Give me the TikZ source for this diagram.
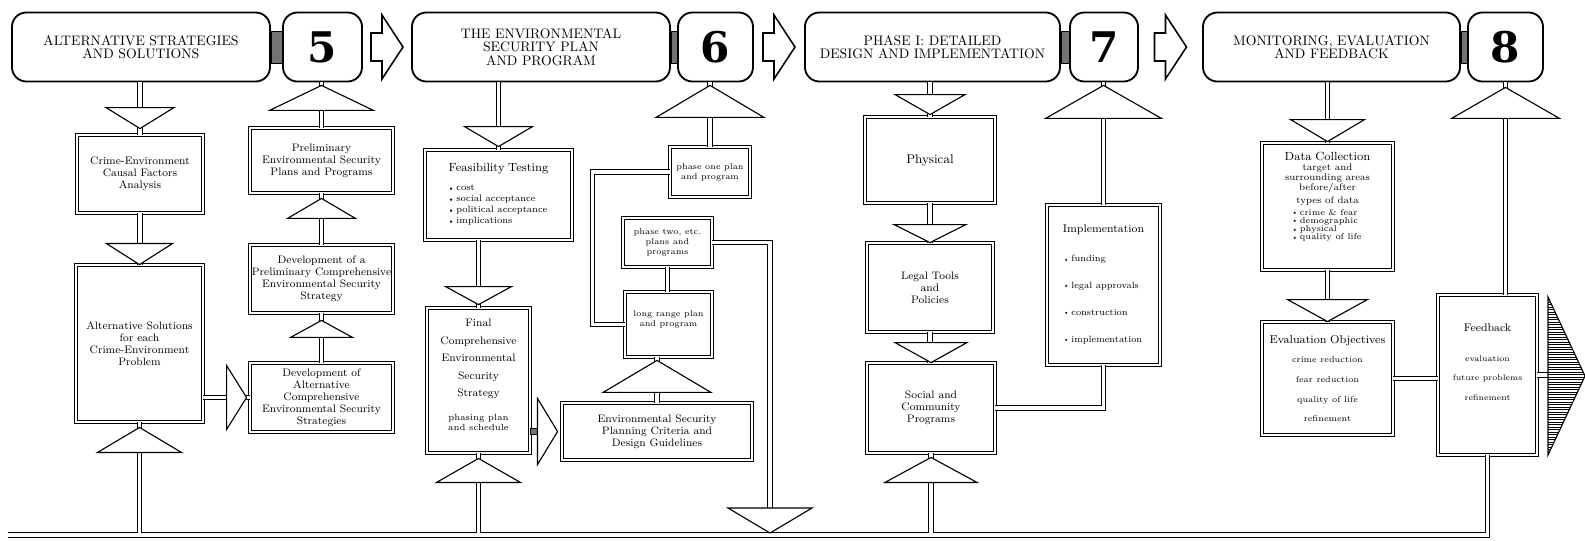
\documentclass[tikz,border=0pt]{standalone}
\usepackage{amsmath}
\usepackage{fontspec}
\usepackage{tikz}
\usetikzlibrary{calc}
\newfontfamily\numfont{DejaVu Serif}
\newcommand{\dotitem}{\raisebox{0.15ex}{\scalebox{0.55}{$\bullet$}}\ }

\begin{document}
\begin{tikzpicture}[x=0.025cm, y=-0.025cm,
		title/.style={draw, line width=1.3pt, rounded corners=0.36cm, minimum height=1.725cm, inner sep=1pt, align=center, font=\fontsize{9.8}{9.6}\selectfont},
		num/.style={draw, line width=1.3pt, rounded corners=0.36cm, minimum height=1.725cm, inner sep=0pt, font=\numfont\bfseries\fontsize{30}{30}\selectfont},
		joint/.style={draw, line width=0.6pt, fill=black!55},
		blockarr/.style={draw, line width=1.1pt, line join=miter, fill=white},
		box/.style={draw, double, double distance=1.6pt, line width=0.6pt, fill=white, inner sep=1pt, align=center, font=\fontsize{7.7}{8.6}\selectfont},
		dline/.style={double, double distance=2.6pt, line width=0.6pt},
		head/.style={draw, line width=0.8pt, line join=miter, fill=white}]
	\useasboundingbox (0,0) rectangle (1585,540);

	\node[title, minimum width=6.45cm] (t5) at (141,47) {ALTERNATIVE STRATEGIES\\AND SOLUTIONS};
	\node[num, minimum width=1.975cm] (n5) at (322.5,47) {5};
	\node[title, minimum width=6.45cm] (t6) at (541,47) {THE ENVIRONMENTAL\\SECURITY PLAN\\AND PROGRAM};
	\node[num, minimum width=1.875cm] (n6) at (715.5,47) {6};
	\node[title, minimum width=6.375cm] (t7) at (932.5,47) {PHASE I: DETAILED\\DESIGN AND IMPLEMENTATION};
	\node[num, minimum width=1.7cm] (n7) at (1104,47) {7};
	\node[title, minimum width=6.425cm] (t8) at (1331.5,47) {MONITORING, EVALUATION\\AND FEEDBACK};
	\node[num, minimum width=1.875cm] (n8) at (1505.5,47) {8};

	\foreach \a/\b in {t5/n5,t6/n6,t7/n7,t8/n8}
		\draw[joint] ($(\a.east)+(0,-16)$) rectangle ($(\b.west)+(0,16)$);
	\foreach \a/\b in {n5/t6,n6/t7,n7/t8}
		\draw[blockarr] ($(\a.east)!0.5!(\b.west)+(-16,-14)$) -- ++(11,0) -- ++(0,-18) -- ++(21,32) -- ++(-21,32) -- ++(0,-18) -- ++(-11,0) -- cycle;

	\node[box, minimum width=3.15cm, minimum height=1.95cm] (cea) at (140,174) {Crime-Environment\\Causal Factors\\Analysis};
	\node[box, minimum width=3.175cm, minimum height=3.925cm] (alt) at (139.5,343.5) {Alternative Solutions\\for each\\Crime-Environment\\Problem};
	\node[box, minimum width=3.575cm, minimum height=1.625cm] (pre) at (321.5,160.5) {Preliminary\\Environmental Security\\Plans and Programs};
	\node[box, minimum width=3.575cm, minimum height=1.7cm] (dpc) at (321.5,279) {Development of a\\Preliminary Comprehensive\\Environmental Security\\Strategy};
	\node[box, minimum width=3.575cm, minimum height=1.725cm] (dac) at (321.5,397.5) {Development of\\Alternative\\Comprehensive\\Environmental Security\\Strategies};

	\node[box, minimum width=3.675cm, minimum height=2.25cm, text width=3.4cm] (fea) at (498.5,195) {{\fontsize{8.4}{9}\selectfont Feasibility Testing\par}\vspace{6.4pt}{\fontsize{6.6}{7.8}\selectfont\begin{tabular}[t]{@{}l@{}}\dotitem cost\\\dotitem social acceptance\\\dotitem political acceptance\\\dotitem implications\end{tabular}\par}};
	\node[box, minimum width=2.575cm, minimum height=3.625cm, text width=2.4cm] (fin) at (478.5,380.5) {Final\\[3.8pt]Comprehensive\\[3.8pt]Environmental\\[3.8pt]Security\\[3.8pt]Strategy\par\vspace{10pt}{\fontsize{6.3}{7}\selectfont phasing plan\\and schedule\rule[-8pt]{0pt}{8pt}\par}};
	\node[box, minimum width=4.75cm, minimum height=1.425cm] (crit) at (657,431.5) {Environmental Security\\Planning Criteria and\\Design Guidelines};
	\node[box, minimum width=2cm, minimum height=1.25cm, font=\fontsize{6}{7.2}\selectfont] (p1) at (710,172) {phase one plan\\and program};
	\node[box, minimum width=2.225cm, minimum height=1.225cm, font=\fontsize{6}{7.2}\selectfont] (p2) at (667.5,242.5) {phase two, etc.\\plans and\\programs};
	\node[box, minimum width=2.175cm, minimum height=1.625cm, font=\fontsize{6}{7.2}\selectfont] (lr) at (668.5,324.5) {long range plan\\and program\rule[-8pt]{0pt}{8pt}};

	\node[box, minimum width=3.25cm, minimum height=2.15cm, font=\fontsize{9}{10}\selectfont] (phy) at (930,160) {Physical};
	\node[box, minimum width=3.15cm, minimum height=2.225cm] (leg) at (930,287.5) {Legal Tools\\and\\Policies};
	\node[box, minimum width=3.2cm, minimum height=2.25cm] (soc) at (931,408) {Social and\\Community\\Programs};
	\node[box, minimum width=2.825cm, minimum height=4cm, text width=2.6cm] (imp) at (1103.5,285) {{\fontsize{7.9}{9}\selectfont Implementation\par}\vspace{13pt}{\fontsize{6.5}{8}\selectfont\begin{tabular}[t]{@{}l@{}}\dotitem funding\\[11pt]\dotitem legal approvals\\[11pt]\dotitem construction\\[11pt]\dotitem implementation\end{tabular}\par}};

	\node[box, minimum width=3.275cm, minimum height=3.175cm, text width=3.1cm] (dat) at (1327.5,206.5) {{\fontsize{8.4}{9}\selectfont Data Collection\par}\vspace{0.5pt}{\fontsize{6.8}{7}\selectfont target and\\surrounding areas\\before/after\par\vspace{2.2pt}types of data\par}\vspace{1.5pt}{\fontsize{6.1}{5.4}\selectfont\begin{tabular}[t]{@{}l@{}}\dotitem crime \& fear\\\dotitem demographic\\\dotitem physical\\\dotitem quality of life\rule[-15pt]{0pt}{15pt}\end{tabular}\par}};
	\node[box, minimum width=3.275cm, minimum height=2.825cm, text width=3.1cm] (evo) at (1327.5,378.5) {{\fontsize{8.1}{9}\selectfont Evaluation Objectives\par}{\fontsize{6}{13.9}\selectfont crime reduction\\fear reduction\\quality of life\\refinement\par}};
	\node[box, minimum width=2.475cm, minimum height=4cm, text width=2.3cm] (fbk) at (1487.5,375) {{\fontsize{7.9}{9}\selectfont Feedback\par}\vspace{7pt}{\fontsize{5.8}{14}\selectfont evaluation\\future problems\\refinement\rule[-18pt]{0pt}{18pt}\par}};

	\coordinate (bl) at (8,535);
	\coordinate (drop) at (770,533);
	\coordinate (out) at (1548,376);

	\draw[dline] (t5.south -| cea) -- (cea.north);
	\draw[dline] (cea.south) -- (cea.south |- alt.north);
	\draw[dline] (alt.east |- dac) -- (dac.west);
	\draw[dline] (dac.north) -- (dpc.south);
	\draw[dline] (dpc.north) -- (pre.south);
	\draw[dline] (pre.north) -- (pre.north |- n5.south);
	\draw[dline] (t6.south -| fea) -- (fea.north);
	\draw[dline] (fea.south -| fin) -- (fin.north);
	\draw[dline] (crit.north) -- (crit.north |- lr.south);
	\draw[dline] (p1.north) -- (p1.north |- n6.south);
	\draw[dline] (p1.west) -| ($(lr.west)+(-32,0)$) -- (lr.west);
	\draw[dline] (p2.south) -- (p2.south |- lr.north);
	\draw[dline] (p2.east) -| (drop);
	\draw[dline] (t7.south -| phy) -- (phy.north);
	\draw[dline] (phy.south) -- (phy.south |- leg.north);
	\draw[dline] (leg.south) -- (leg.south |- soc.north);
	\draw[dline] (soc.east) -| (imp.south);
	\draw[dline] (imp.north) -- (imp.north |- n7.south);
	\draw[dline] (t8.south -| dat) -- (dat.north);
	\draw[dline] (dat.south) -- (evo.north);
	\draw[dline] (evo.east) -- (evo.east -| fbk.west);
	\draw[dline] (n8.south |- fbk.north) -- (n8.south);
	\draw[dline] (fbk.east) -- (fbk.east -| out);
	\draw[dline] (fbk.south) |- (bl) (alt.south |- bl) -- (alt.south) (fin.south |- bl) -- (fin.south) (soc.south |- bl) -- (soc.south);

	\draw[head] ($(cea.north)+(0,-6)$) -- ++(-34,-21) -- ++(68,0) -- cycle;
	\draw[head] (alt.north) -- ++(-33,-21) -- ++(66,0) -- cycle;
	\draw[head] ($(alt.south)+(0,5)$) -- ++(-42,25) -- ++(84,0) -- cycle;
	\draw[head] ($(dac.west)+(-3,0)$) -- ++(-20,-32) -- ++(0,64) -- cycle;
	\draw[head] ($(dpc.south)+(0,7)$) -- ++(-31,17) -- ++(62,0) -- cycle;
	\draw[head] ($(pre.south)+(0,5)$) -- ++(-34,20) -- ++(68,0) -- cycle;
	\draw[head] ($(pre.north |- n5.south)+(0,3)$) -- ++(-52,25) -- ++(104,0) -- cycle;
	\draw[head] ($(fea.north)+(0,-3)$) -- ++(-34,-20) -- ++(68,0) -- cycle;
	\draw[head] ($(fin.north)+(0,-3)$) -- ++(-33,-18) -- ++(66,0) -- cycle;
	\draw[head] ($(fin.south)+(0,5)$) -- ++(-42,24) -- ++(84,0) -- cycle;
	\draw[joint] ($(fin.east |- crit.west)+(0,-3)$) rectangle ++(8,6);
	\draw[head] ($(crit.west)+(-4,0)$) -- ++(-20,-33) -- ++(0,66) -- cycle;
	\draw[head] ($(crit.north |- lr.south)+(0,3)$) -- ++(-54,32) -- ++(108,0) -- cycle;
	\draw[head] ($(p1.north |- n6.south)+(0,3)$) -- ++(-54,32) -- ++(108,0) -- cycle;
	\draw[head] (drop) -- ++(-42,-25) -- ++(84,0) -- cycle;
	\draw[head] ($(phy.north)+(0,-2)$) -- ++(-35,-20) -- ++(70,0) -- cycle;
	\draw[head] (leg.north) -- ++(-36,-18) -- ++(72,0) -- cycle;
	\draw[head] (soc.north) -- ++(-36,-20) -- ++(72,0) -- cycle;
	\draw[head] ($(soc.south)+(0,4)$) -- ++(-46,25) -- ++(92,0) -- cycle;
	\draw[head] ($(imp.north |- n7.south)+(0,3)$) -- ++(-58,33) -- ++(116,0) -- cycle;
	\draw[head] ($(dat.north)+(0,-1)$) -- ++(-37,-22) -- ++(74,0) -- cycle;
	\draw[head] (evo.north) -- ++(-40,-22) -- ++(80,0) -- cycle;
	\draw[head] ($(n8.south)+(0,5)$) -- ++(-54,31) -- ++(108,0) -- cycle;

	\begin{scope}
		\clip ($(out)+(0,-79)$) -- ++(37,79) -- ++(-37,79) -- cycle;
		\foreach \y in {297,299.5,...,455}
			\draw[line width=0.5pt] (1548,\y) -- (1585,\y);
	\end{scope}
	\draw[line width=0.8pt, line join=miter] ($(out)+(0,-79)$) -- ++(37,79) -- ++(-37,79) -- cycle;
\end{tikzpicture}
\end{document}
